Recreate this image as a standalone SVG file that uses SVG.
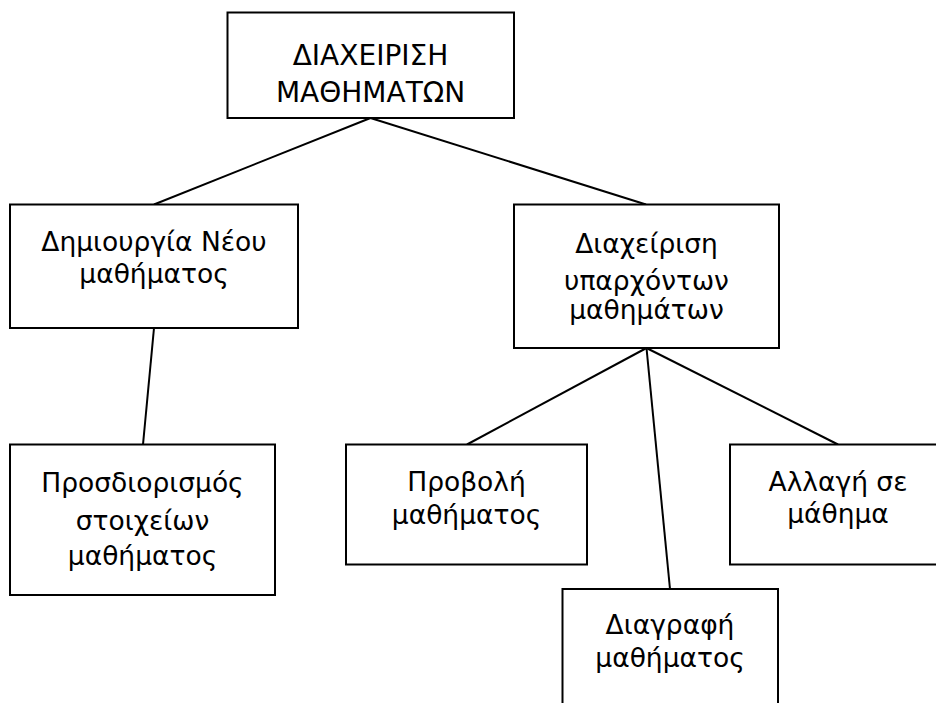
<svg xmlns="http://www.w3.org/2000/svg" width="936" height="703" viewBox="0 0 936 703">
  <style>
    .box { fill: #ffffff; stroke: #000000; stroke-width: 2; }
    .link { stroke: #000000; stroke-width: 2; fill: none; }
    text { font-family: "DejaVu Sans", "Noto Sans", sans-serif; font-size: 26.5px; fill: #000000; text-anchor: middle; }
    .title { font-size: 28px; }
  </style>
  <rect x="0" y="0" width="936" height="703" fill="#ffffff"/>

  <!-- tree connectors -->
  <g id="connectors">
    <line class="link" x1="370.5" y1="118" x2="154" y2="204.5"/>
    <line class="link" x1="370.5" y1="118" x2="646" y2="204.5"/>
    <line class="link" x1="154" y1="328" x2="143" y2="444.5"/>
    <line class="link" x1="646.5" y1="348" x2="467" y2="444.5"/>
    <line class="link" x1="646.5" y1="348" x2="838" y2="444.5"/>
    <line class="link" x1="646.5" y1="348" x2="670" y2="589"/>
  </g>

  <g id="root">
    <rect class="box" x="227.5" y="12.5" width="286.5" height="105.5"/>
    <text class="title" x="370.5" y="65">ΔΙΑΧΕΙΡΙΣΗ</text>
    <text class="title" x="370.5" y="101.5">ΜΑΘΗΜΑΤΩΝ</text>
  </g>

  <g id="create">
    <rect class="box" x="10" y="204.5" width="288" height="123.5"/>
    <text x="154" y="251">Δημιουργία Νέου</text>
    <text x="154" y="283">μαθήματος</text>
  </g>

  <g id="manage">
    <rect class="box" x="514" y="204.5" width="265" height="143.5"/>
    <text x="646.5" y="253">Διαχείριση</text>
    <text x="646.5" y="290">υπαρχόντων</text>
    <text x="646.5" y="319">μαθημάτων</text>
  </g>

  <g id="define">
    <rect class="box" x="10" y="444.5" width="265" height="150.5"/>
    <text x="142.5" y="491.5">Προσδιορισμός</text>
    <text x="142.5" y="530">στοιχείων</text>
    <text x="142.5" y="565">μαθήματος</text>
  </g>

  <g id="view">
    <rect class="box" x="346" y="444.5" width="241" height="120"/>
    <text x="466.5" y="491">Προβολή</text>
    <text x="466.5" y="524">μαθήματος</text>
  </g>

  <g id="edit">
    <rect class="box" x="730" y="444.5" width="216" height="120"/>
    <text x="838" y="491">Αλλαγή σε</text>
    <text x="838" y="523">μάθημα</text>
  </g>

  <g id="delete">
    <rect class="box" x="562.5" y="589" width="215.5" height="130"/>
    <text x="670" y="634">Διαγραφή</text>
    <text x="670" y="667">μαθήματος</text>
  </g>
</svg>
